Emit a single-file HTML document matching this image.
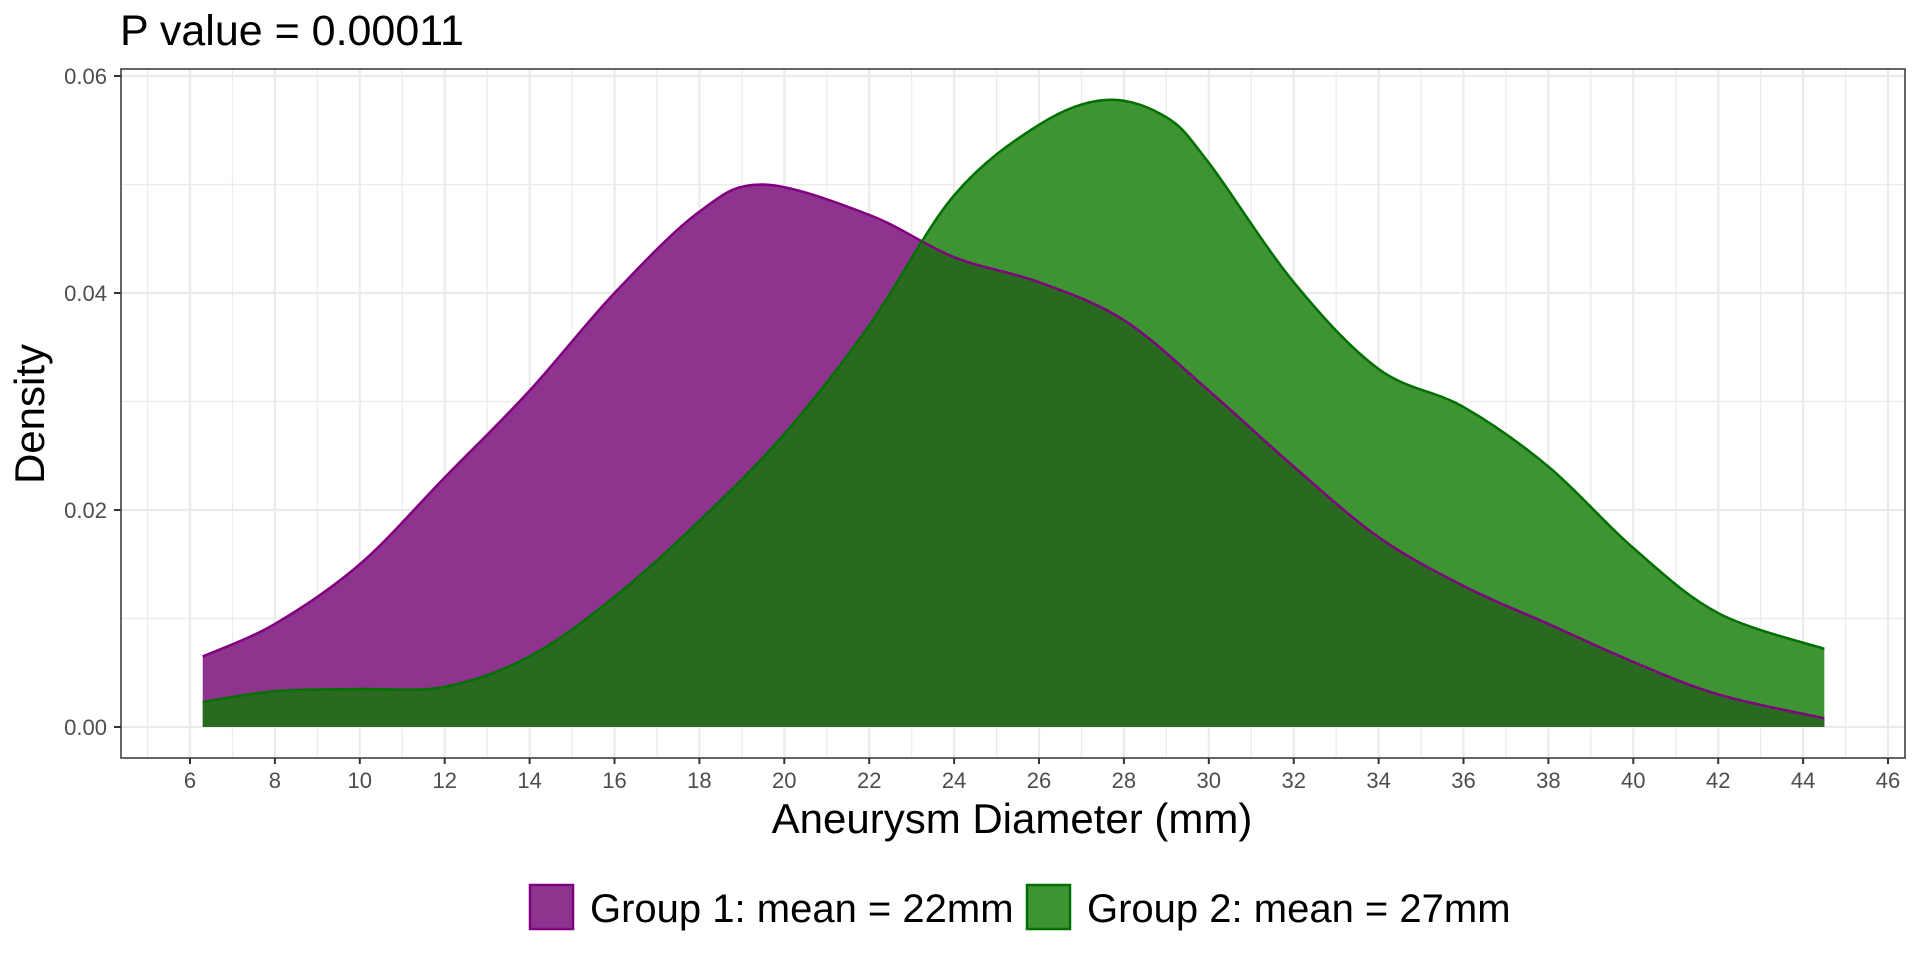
<!DOCTYPE html>
<html><head><style>
body{margin:0;background:#fff;}
svg text{font-family:"Liberation Sans",Arial,sans-serif;}
</style></head><body>
<svg id="s" width="1920" height="960" xmlns="http://www.w3.org/2000/svg">
<rect width="1920" height="960" fill="#fff"/>
<g id="grid"></g>
<defs><clipPath id="gc"><path id="gclip"/></clipPath></defs>
<path id="pf" fill="#8e348f"/>
<path id="gf" fill="#3e9333"/>
<path id="of" fill="#2a6a20" clip-path="url(#gc)"/>
<path id="pl" fill="none" stroke="#800080" stroke-width="2.5"/>
<path id="gl" fill="none" stroke="#007000" stroke-width="2.5"/>
<rect x="121" y="69" width="1784" height="689" fill="none" stroke="#333" stroke-width="1.5"/>
<g id="ticks" fill="#4d4d4d" font-size="22"></g>
<text x="120" y="45" font-size="43" fill="#000">P value = 0.00011</text>
<text x="1012" y="833" font-size="42" text-anchor="middle" fill="#000">Aneurysm Diameter (mm)</text>
<text transform="translate(44,414) rotate(-90)" font-size="42" text-anchor="middle" fill="#000">Density</text>
<rect x="530" y="885" width="43" height="44" fill="#8e348f" stroke="#800080" stroke-width="2.5"/>
<text x="590" y="922" font-size="40" fill="#000">Group 1: mean = 22mm</text>
<rect x="1027" y="885" width="43" height="44" fill="#3e9333" stroke="#007000" stroke-width="2.5"/>
<text x="1087" y="922" font-size="40" fill="#000">Group 2: mean = 27mm</text>
</svg>
<script>
const X=v=>190+(v-6)*42.45, Y=d=>727-d*10850;
const P=[[6.3,.0065],[8,.0095],[10,.015],[12,.023],[14,.031],[16,.04],[18,.0475],[19.5,.05],[22,.0472],[24,.0433],[26,.041],[28,.0375],[30,.031],[32,.024],[34,.0175],[36,.013],[38,.0095],[40,.006],[42,.003],[44.5,.0008]];
const G=[[6.3,.0023],[8,.0033],[10,.0035],[12,.0037],[14,.0065],[16,.012],[18,.019],[20,.027],[22,.037],[24,.049],[26,.0555],[27.6,.0578],[29,.0562],[30,.052],[32,.041],[34,.033],[36,.0295],[38,.024],[40,.0165],[42,.0105],[44.5,.0072]];
function curve(a){const p=a.map(q=>[X(q[0]),Y(q[1])]);let d="M"+p[0][0]+","+p[0][1];
for(let i=0;i<p.length-1;i++){const p0=p[i-1]||p[i],p1=p[i],p2=p[i+1],p3=p[i+2]||p2;
d+=` C${p1[0]+(p2[0]-p0[0])/6},${p1[1]+(p2[1]-p0[1])/6} ${p2[0]-(p3[0]-p1[0])/6},${p2[1]-(p3[1]-p1[1])/6} ${p2[0]},${p2[1]}`;}return d;}
function area(a){return curve(a)+` L${X(44.5)},${Y(0)} L${X(6.3)},${Y(0)} Z`;}
const e=id=>document.getElementById(id);
e("pf").setAttribute("d",area(P));e("gf").setAttribute("d",area(G));
e("gclip").setAttribute("d",area(G));e("of").setAttribute("d",area(P));
e("pl").setAttribute("d",curve(P));e("gl").setAttribute("d",curve(G));
let g="",t="";
for(let v=5;v<=46;v++){const x=X(v);g+=`<line x1="${x}" y1="69" x2="${x}" y2="758" stroke="#ebebeb" stroke-width="${v%2?1.2:2.2}"/>`;}
for(let k=0;k<=6;k++){const y=Y(k*0.01);g+=`<line x1="121" y1="${y}" x2="1905" y2="${y}" stroke="#ebebeb" stroke-width="${k%2?1.2:2.2}"/>`;}
for(let v=6;v<=46;v+=2){const x=X(v);t+=`<line x1="${x}" y1="758" x2="${x}" y2="764" stroke="#333" stroke-width="2"/><text x="${x}" y="788" text-anchor="middle">${v}</text>`;}
for(let k=0;k<=3;k++){const y=Y(k*0.02);t+=`<line x1="114" y1="${y}" x2="121" y2="${y}" stroke="#333" stroke-width="2"/><text x="107" y="${y+8}" text-anchor="end">${(k*0.02).toFixed(2)}</text>`;}
e("grid").innerHTML=g;e("ticks").innerHTML=t;
</script>
</body></html>
